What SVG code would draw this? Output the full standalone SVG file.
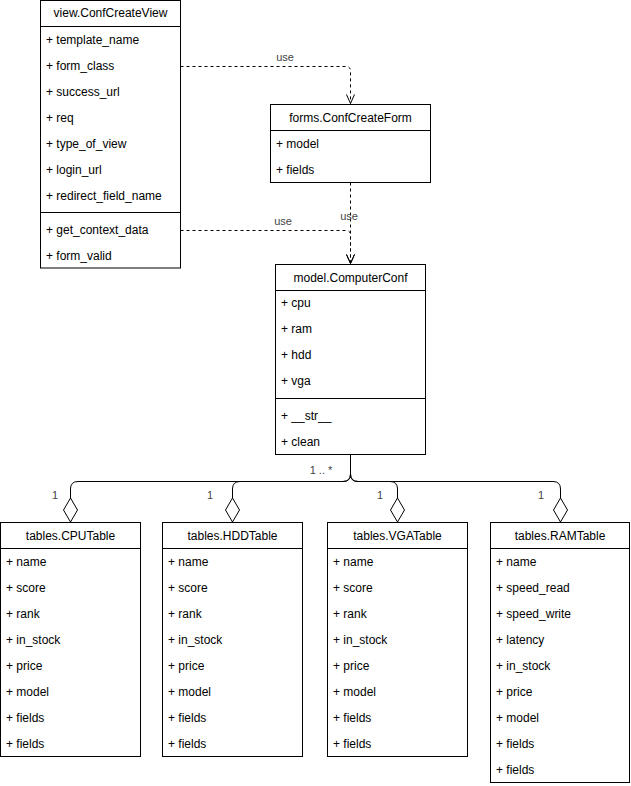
<svg xmlns="http://www.w3.org/2000/svg" width="631" height="786" viewBox="0 0 631 786">
<style>
.box{fill:#fff;stroke:#000;stroke-width:1}
.sep{stroke:#000;stroke-width:1;fill:none}
.t{font-family:"Liberation Sans",Arial,sans-serif;font-size:12px;fill:#000}
.h{text-anchor:middle}
.lbl{font-family:"Liberation Sans",Arial,sans-serif;font-size:11px;fill:#444;text-anchor:middle}
.dash{fill:none;stroke:#000;stroke-width:1;stroke-dasharray:3 3}
.agg{fill:none;stroke:#000;stroke-width:1}
.dia{fill:#fff;stroke:#000;stroke-width:1}
</style>
<defs>
<marker id="open" viewBox="0 0 10 10" refX="9.5" refY="5" markerWidth="10" markerHeight="10" markerUnits="userSpaceOnUse" orient="auto">
<path d="M0.5,1 L9.5,5 L0.5,9" fill="none" stroke="#000" stroke-width="1"/>
</marker>
</defs>

<g id="connectors">
<path class="dash" d="M180.5,66.5 H346 Q350.5,66.5 350.5,71 V103.5" marker-end="url(#open)"/>
<text class="lbl" x="285" y="61">use</text>
<path class="dash" d="M350.5,182.5 V263.5" marker-end="url(#open)"/>
<text class="lbl" x="349" y="220">use</text>
<path class="dash" d="M180.5,230.5 H346 Q350.5,230.5 350.5,235 V263.5" marker-end="url(#open)"/>
<text class="lbl" x="283" y="225">use</text>

<path class="agg" d="M350.5,454.5 V474 Q350.5,481.5 343,481.5 H78 Q70.5,481.5 70.5,489 V498"/>
<path class="agg" d="M350.5,454.5 V474 Q350.5,481.5 343,481.5 H240 Q232.5,481.5 232.5,489 V498"/>
<path class="agg" d="M350.5,454.5 V474 Q350.5,481.5 358,481.5 H390 Q397.5,481.5 397.5,489 V498"/>
<path class="agg" d="M350.5,454.5 V474 Q350.5,481.5 358,481.5 H553 Q560.5,481.5 560.5,489 V498"/>
<path class="dia" d="M70.5,522 L63.5,510 L70.5,498 L77.5,510 Z"/>
<path class="dia" d="M232.5,522 L225.5,510 L232.5,498 L239.5,510 Z"/>
<path class="dia" d="M397.5,522 L390.5,510 L397.5,498 L404.5,510 Z"/>
<path class="dia" d="M560.5,522 L553.5,510 L560.5,498 L567.5,510 Z"/>
<text class="lbl" x="321" y="474">1 .. *</text>
<text class="lbl" x="55" y="499">1</text>
<text class="lbl" x="210" y="499">1</text>
<text class="lbl" x="380" y="499">1</text>
<text class="lbl" x="541" y="499">1</text>
</g>

<g id="view">
<rect class="box" x="40.5" y="0.5" width="140" height="267.5"/>
<path class="sep" d="M40.5,26.5 H180.5 M40.5,212.5 H180.5"/>
<text class="t h" x="110.5" y="17">view.ConfCreateView</text>
<text class="t" x="46" y="44">+ template_name</text>
<text class="t" x="46" y="70">+ form_class</text>
<text class="t" x="46" y="96">+ success_url</text>
<text class="t" x="46" y="122">+ req</text>
<text class="t" x="46" y="148">+ type_of_view</text>
<text class="t" x="46" y="174">+ login_url</text>
<text class="t" x="46" y="200">+ redirect_field_name</text>
<text class="t" x="46" y="234">+ get_context_data</text>
<text class="t" x="46" y="260">+ form_valid</text>
</g>

<g id="forms">
<rect class="box" x="270.5" y="104.5" width="160" height="78"/>
<path class="sep" d="M270.5,130.5 H430.5"/>
<text class="t h" x="350.5" y="122">forms.ConfCreateForm</text>
<text class="t" x="276" y="148">+ model</text>
<text class="t" x="276" y="174">+ fields</text>
</g>

<g id="model">
<rect class="box" x="275.5" y="264.5" width="150" height="190"/>
<path class="sep" d="M275.5,290.5 H425.5 M275.5,398.5 H425.5"/>
<text class="t h" x="350.5" y="282">model.ComputerConf</text>
<text class="t" x="281" y="307">+ cpu</text>
<text class="t" x="281" y="333">+ ram</text>
<text class="t" x="281" y="359">+ hdd</text>
<text class="t" x="281" y="385">+ vga</text>
<text class="t" x="281" y="420">+ __str__</text>
<text class="t" x="281" y="446">+ clean</text>
</g>

<g id="cpu">
<rect class="box" x="0.5" y="522.5" width="140" height="234"/>
<path class="sep" d="M0.5,548.5 H140.5"/>
<text class="t h" x="70.5" y="540">tables.CPUTable</text>
<text class="t" x="6" y="566">+ name</text>
<text class="t" x="6" y="592">+ score</text>
<text class="t" x="6" y="618">+ rank</text>
<text class="t" x="6" y="644">+ in_stock</text>
<text class="t" x="6" y="670">+ price</text>
<text class="t" x="6" y="696">+ model</text>
<text class="t" x="6" y="722">+ fields</text>
<text class="t" x="6" y="748">+ fields</text>
</g>

<g id="hdd">
<rect class="box" x="162.5" y="522.5" width="140" height="234"/>
<path class="sep" d="M162.5,548.5 H302.5"/>
<text class="t h" x="232.5" y="540">tables.HDDTable</text>
<text class="t" x="168" y="566">+ name</text>
<text class="t" x="168" y="592">+ score</text>
<text class="t" x="168" y="618">+ rank</text>
<text class="t" x="168" y="644">+ in_stock</text>
<text class="t" x="168" y="670">+ price</text>
<text class="t" x="168" y="696">+ model</text>
<text class="t" x="168" y="722">+ fields</text>
<text class="t" x="168" y="748">+ fields</text>
</g>

<g id="vga">
<rect class="box" x="327.5" y="522.5" width="140" height="234"/>
<path class="sep" d="M327.5,548.5 H467.5"/>
<text class="t h" x="397.5" y="540">tables.VGATable</text>
<text class="t" x="333" y="566">+ name</text>
<text class="t" x="333" y="592">+ score</text>
<text class="t" x="333" y="618">+ rank</text>
<text class="t" x="333" y="644">+ in_stock</text>
<text class="t" x="333" y="670">+ price</text>
<text class="t" x="333" y="696">+ model</text>
<text class="t" x="333" y="722">+ fields</text>
<text class="t" x="333" y="748">+ fields</text>
</g>

<g id="ram">
<rect class="box" x="490.5" y="522.5" width="139" height="260"/>
<path class="sep" d="M490.5,548.5 H629.5"/>
<text class="t h" x="560" y="540">tables.RAMTable</text>
<text class="t" x="496" y="566">+ name</text>
<text class="t" x="496" y="592">+ speed_read</text>
<text class="t" x="496" y="618">+ speed_write</text>
<text class="t" x="496" y="644">+ latency</text>
<text class="t" x="496" y="670">+ in_stock</text>
<text class="t" x="496" y="696">+ price</text>
<text class="t" x="496" y="722">+ model</text>
<text class="t" x="496" y="748">+ fields</text>
<text class="t" x="496" y="774">+ fields</text>
</g>
</svg>
